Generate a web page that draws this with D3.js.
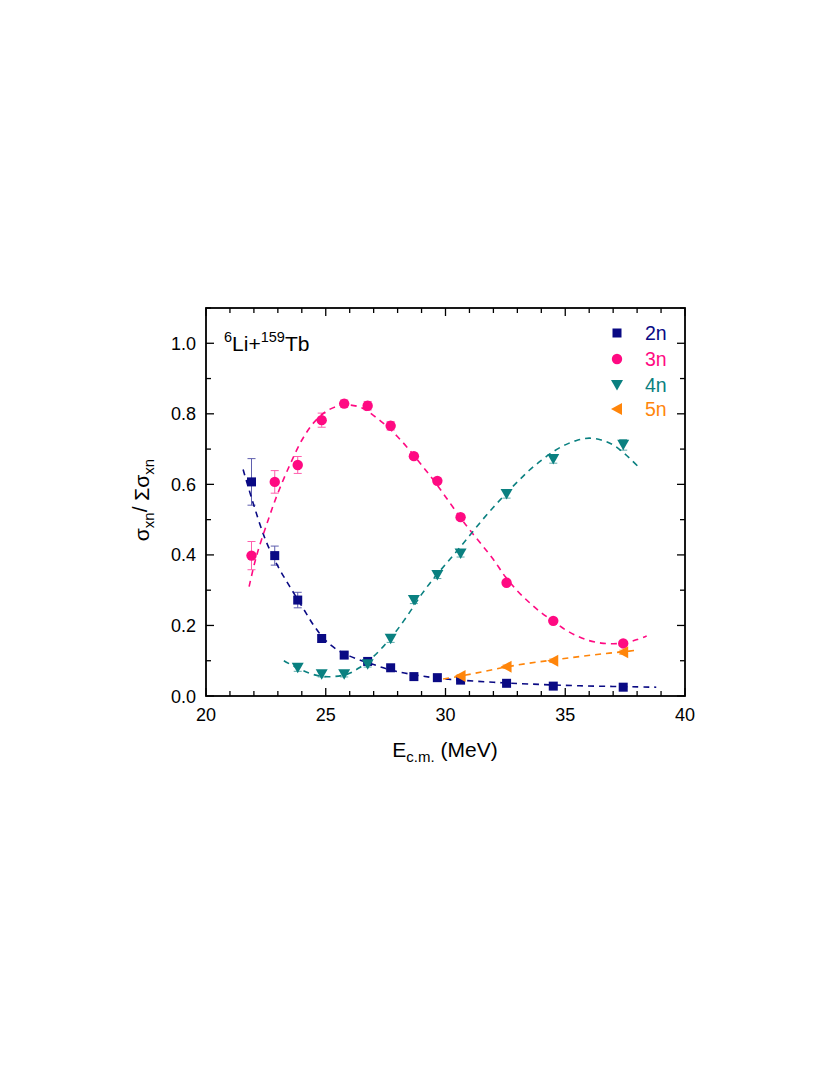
<!DOCTYPE html>
<html>
<head>
<meta charset="utf-8">
<script src="https://cdn.jsdelivr.net/npm/d3@7"></script>
<style>
html,body{margin:0;padding:0;background:#fff;}
svg text{font-family:"Liberation Sans",Arial,Helvetica,sans-serif;}
</style>
</head>
<body>
<svg id="chart" width="833" height="1090"></svg>
<script>
// ---- data ----
const energy = [21.9, 22.87, 23.83, 24.83, 25.77, 26.75, 27.71, 28.68, 29.66, 30.63, 32.55, 34.5, 37.42];
const ratio2n = [0.607, 0.398, 0.272, 0.163, 0.116, 0.098, 0.080, 0.055, 0.052, 0.045, 0.036, 0.028, 0.025];
const err2n   = [0.066, 0.027, 0.022, 0.010, 0.008, 0.006, 0.005, 0.004, 0.004, 0.003, 0.003, 0.002, 0.002];
const ratio3n = [0.398, 0.607, 0.655, 0.782, 0.829, 0.823, 0.766, 0.680, 0.610, 0.507, 0.321, 0.213, 0.149];
const err3n   = [0.040, 0.032, 0.024, 0.020, 0.010, 0.012, 0.012, 0.008, 0.008, 0.008, 0.006, 0.005, 0.005];
const energy4n = [23.83, 24.83, 25.77, 26.75, 27.71, 28.68, 29.66, 30.63, 32.55, 34.5, 37.42];
const ratio4n  = [0.080, 0.062, 0.062, 0.090, 0.162, 0.272, 0.343, 0.404, 0.573, 0.672, 0.712];
const err4n    = [0.010, 0.008, 0.008, 0.008, 0.010, 0.010, 0.010, 0.010, 0.012, 0.012, 0.015];
const energy5n = [30.63, 32.55, 34.5, 37.42];
const ratio5n  = [0.057, 0.083, 0.100, 0.124];
const err5n    = [0.004, 0.005, 0.005, 0.006];

// fit curves: [E, ratio]
const fit2n = [[21.55,0.642],[22.0,0.54],[22.5,0.44],[23.0,0.368],[23.5,0.31],[24.0,0.255],[24.5,0.2],[25.0,0.157],[25.5,0.13],[26.0,0.113],[26.5,0.1],[27.0,0.089],[27.5,0.078],[28.0,0.069],[28.7,0.06],[29.5,0.052],[30.6,0.045],[32.0,0.039],[33.5,0.034],[35.6,0.029],[38.8,0.025]];
const fit3n = [[21.8,0.31],[22.1,0.395],[22.6,0.5],[23.0,0.575],[23.5,0.655],[24.0,0.725],[24.5,0.775],[25.0,0.806],[25.5,0.822],[26.0,0.825],[26.5,0.817],[27.0,0.795],[27.5,0.768],[28.0,0.735],[28.5,0.697],[29.0,0.655],[29.5,0.612],[30.0,0.565],[30.6,0.508],[31.0,0.472],[31.5,0.43],[32.0,0.387],[32.5,0.338],[33.0,0.298],[33.5,0.265],[34.0,0.236],[34.5,0.212],[35.0,0.188],[35.5,0.17],[36.0,0.157],[36.5,0.15],[37.0,0.148],[37.5,0.151],[38.0,0.16],[38.4,0.17]];
const fit4n = [[23.25,0.1],[23.8,0.08],[24.3,0.065],[24.8,0.056],[25.3,0.055],[25.9,0.062],[26.4,0.08],[26.9,0.106],[27.4,0.14],[27.9,0.18],[28.5,0.237],[29.0,0.288],[29.5,0.333],[30.0,0.373],[30.5,0.413],[31.0,0.454],[31.5,0.496],[32.0,0.535],[32.5,0.572],[33.0,0.607],[33.5,0.64],[34.0,0.668],[34.5,0.693],[35.0,0.712],[35.5,0.725],[36.0,0.731],[36.5,0.726],[37.0,0.712],[37.5,0.686],[38.05,0.65]];
const fit5n = [[29.9,0.048],[30.5,0.055],[31.5,0.068],[32.5,0.082],[33.5,0.093],[34.5,0.102],[35.5,0.111],[36.5,0.119],[37.5,0.126],[38.0,0.13]];

const seriesNames = ["2n", "3n", "4n", "5n"];
const xTicks = [20, 25, 30, 35, 40];
const yTicks = [0.0, 0.2, 0.4, 0.6, 0.8, 1.0];

// ---- layout ----
const colors = {"2n":"#0a0a84", "3n":"#ff0a82", "4n":"#0a8080", "5n":"#ff850a"};
const L = 206, R = 685, T = 308, B = 696;
const svg = d3.select("#chart");
svg.append("rect").attr("width",833).attr("height",1090).attr("fill","#fff");

const x = d3.scaleLinear().domain([20, 40]).range([L, R]);
const y = d3.scaleLinear().domain([0, 1.1]).range([B, T]);

// fit lines
const line = d3.line().x(d => x(d[0])).y(d => y(d[1])).curve(d3.curveCatmullRom);
const fits = {"2n":fit2n, "3n":fit3n, "4n":fit4n, "5n":fit5n};
seriesNames.forEach(s => {
  svg.append("path").datum(fits[s]).attr("d", line)
    .attr("fill","none").attr("stroke", colors[s]).attr("stroke-width",1.6)
    .attr("stroke-dasharray","6,5");
});

// marker shapes
const shapes = {
  "2n": (g) => g.append("rect").attr("x",-4.5).attr("y",-4.5).attr("width",9).attr("height",9),
  "3n": (g) => g.append("circle").attr("r",5.2),
  "4n": (g) => g.append("path").attr("d","M-6,-5L6,-5L0,5.5Z"),
  "5n": (g) => g.append("path").attr("d","M5,-6L5,6L-6,0Z")
};

const seriesData = {
  "2n": energy.map((e,i) => ({e, v: ratio2n[i], err: err2n[i]})),
  "3n": energy.map((e,i) => ({e, v: ratio3n[i], err: err3n[i]})),
  "4n": energy4n.map((e,i) => ({e, v: ratio4n[i], err: err4n[i]})),
  "5n": energy5n.map((e,i) => ({e, v: ratio5n[i], err: err5n[i]}))
};

seriesNames.forEach(s => {
  const g = svg.append("g");
  const d = seriesData[s];
  // error bars
  d.forEach(p => {
    const eg = g.append("g").attr("stroke", colors[s]).attr("stroke-width",1).attr("opacity",0.65);
    eg.append("line").attr("x1",x(p.e)).attr("x2",x(p.e)).attr("y1",y(p.v+p.err)).attr("y2",y(p.v-p.err));
    eg.append("line").attr("x1",x(p.e)-4).attr("x2",x(p.e)+4).attr("y1",y(p.v+p.err)).attr("y2",y(p.v+p.err));
    eg.append("line").attr("x1",x(p.e)-4).attr("x2",x(p.e)+4).attr("y1",y(p.v-p.err)).attr("y2",y(p.v-p.err));
  });
  d.forEach(p => {
    const mg = g.append("g").attr("transform",`translate(${x(p.e)},${y(p.v)})`).attr("fill", colors[s]);
    shapes[s](mg);
  });
});

// axes frame with inward ticks
const axisG = svg.append("g").attr("stroke","#000");
const xMinor = d3.range(20, 40.01, 1);
const yMinor = d3.range(0, 1.101, 0.1);
xMinor.forEach(v => {
  const len = (Math.abs(v % 5) < 1e-6) ? 8 : 5;
  axisG.append("line").attr("x1",x(v)).attr("x2",x(v)).attr("y1",B).attr("y2",B-len).attr("stroke-width",1.3);
  axisG.append("line").attr("x1",x(v)).attr("x2",x(v)).attr("y1",T).attr("y2",T+len).attr("stroke-width",1.3);
});
yMinor.forEach((v,i) => {
  const len = (i % 2 === 0) ? 8 : 5;
  axisG.append("line").attr("y1",y(v)).attr("y2",y(v)).attr("x1",L).attr("x2",L+len).attr("stroke-width",1.3);
  axisG.append("line").attr("y1",y(v)).attr("y2",y(v)).attr("x1",R).attr("x2",R-len).attr("stroke-width",1.3);
});
axisG.append("rect").attr("x",L).attr("y",T).attr("width",R-L).attr("height",B-T)
  .attr("fill","none").attr("stroke-width",1.8);

// tick labels
svg.append("g").selectAll("text").data(xTicks).join("text")
  .attr("x", d => x(d)).attr("y", B + 25).attr("text-anchor","middle")
  .attr("font-size",18).text(d => d);
svg.append("g").selectAll("text").data(yTicks).join("text")
  .attr("x", L - 10).attr("y", d => y(d) + 6.5).attr("text-anchor","end")
  .attr("font-size",18).text(d => d.toFixed(1));

// axis titles
const xt = svg.append("text").attr("x", 445).attr("y", 757).attr("text-anchor","middle").attr("font-size",21);
xt.append("tspan").text("E");
xt.append("tspan").attr("dy",5).attr("font-size",15).text("c.m.");
xt.append("tspan").attr("dy",-5).text(" (MeV)");

const yt = svg.append("text").attr("transform","translate(149,500) rotate(-90)").attr("text-anchor","middle").attr("font-size",21);
yt.append("tspan").text("σ");
yt.append("tspan").attr("dy",5).attr("font-size",15).text("xn");
yt.append("tspan").attr("dy",-7).text("/");
yt.append("tspan").attr("dy",2).text(" Σσ");
yt.append("tspan").attr("dy",5).attr("font-size",15).text("xn");

// annotation
const an = svg.append("text").attr("x",224).attr("y",351).attr("font-size",21);
an.append("tspan").attr("dy",-9).attr("font-size",14.5).text("6");
an.append("tspan").attr("dy",9).text("Li+");
an.append("tspan").attr("dy",-9).attr("font-size",14.5).text("159");
an.append("tspan").attr("dy",9).text("Tb");

// legend
const legY = [333, 359, 385, 409];
seriesNames.forEach((s,i) => {
  const mg = svg.append("g").attr("transform",`translate(617,${legY[i]})`).attr("fill",colors[s]);
  shapes[s](mg);
  svg.append("text").attr("x",645).attr("y",legY[i]+7).attr("font-size",19.5)
    .attr("fill",colors[s]).text(s);
});
</script>
</body>
</html>
